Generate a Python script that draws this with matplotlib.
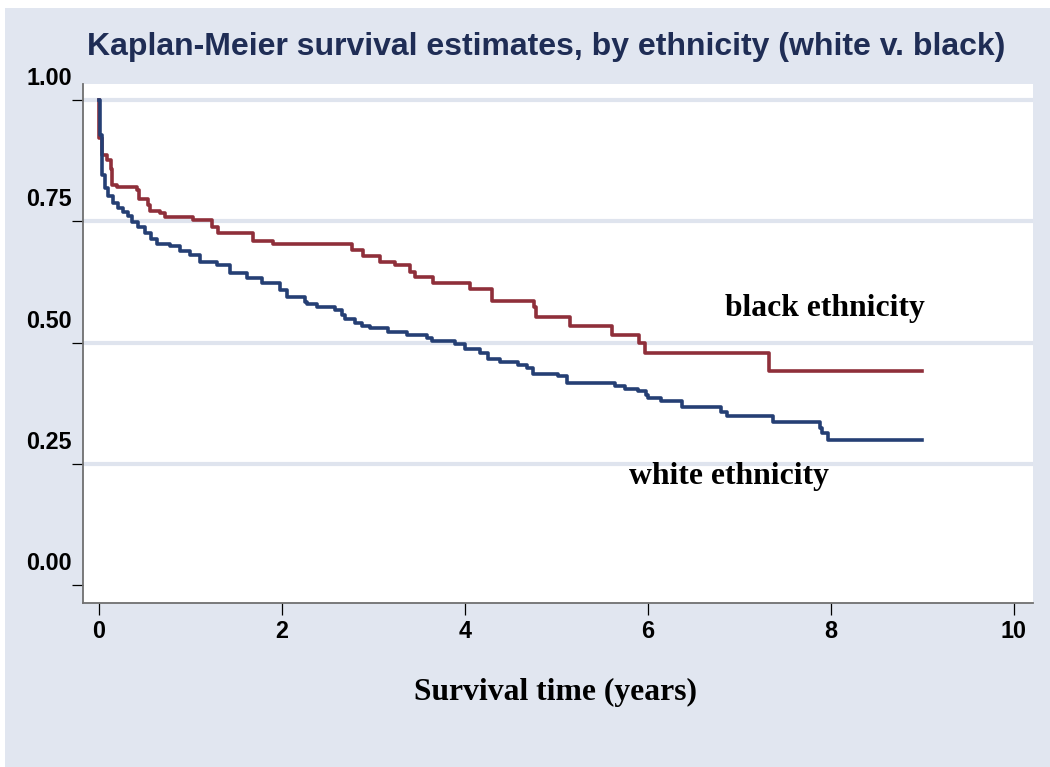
import matplotlib
matplotlib.use("Agg")
import matplotlib.pyplot as plt
import matplotlib.transforms as mtransforms
from matplotlib.patches import Rectangle

# ---------------- data ----------------
black_time = [0.0, 0.007, 0.04, 0.087, 0.13, 0.142, 0.20, 0.415, 0.44, 0.54, 0.56, 0.67, 0.725,
              1.034, 1.235, 1.307, 1.69, 1.908, 2.765, 2.892, 3.074, 3.238, 3.402, 3.457,
              3.657, 4.058, 4.295, 4.757, 4.776, 5.151, 5.607, 5.908, 5.97, 7.329, 9.0]
black_surv = [1.0, 0.922, 0.887, 0.876, 0.858, 0.825, 0.82, 0.814, 0.795, 0.783, 0.772, 0.766, 0.759,
              0.753, 0.739, 0.726, 0.71, 0.703, 0.691, 0.679, 0.665, 0.66, 0.646, 0.636,
              0.623, 0.61, 0.586, 0.574, 0.553, 0.534, 0.515, 0.498, 0.479, 0.442, 0.442]

white_time = [0.0, 0.01, 0.031, 0.069, 0.105, 0.16, 0.211, 0.269, 0.32, 0.361, 0.433, 0.506, 0.572,
              0.634, 0.779, 0.889, 0.998, 1.107, 1.29, 1.435, 1.617, 1.781, 1.981, 2.055,
              2.255, 2.28, 2.383, 2.583, 2.656, 2.692, 2.801, 2.874, 2.965, 3.165, 3.373,
              3.585, 3.639, 3.894, 4.003, 4.167, 4.258, 4.386, 4.586, 4.678, 4.75, 5.023,
              5.115, 5.643, 5.752, 5.897, 5.982, 6.007, 6.142, 6.372, 6.801, 6.863, 7.366,
              7.877, 7.902, 7.968, 9.0]
white_surv = [1.0, 0.928, 0.845, 0.818, 0.802, 0.787, 0.778, 0.77, 0.76, 0.749, 0.739, 0.725, 0.714,
              0.704, 0.698, 0.689, 0.68, 0.667, 0.66, 0.643, 0.634, 0.622, 0.608, 0.594,
              0.584, 0.579, 0.574, 0.566, 0.557, 0.548, 0.541, 0.534, 0.529, 0.522, 0.516,
              0.509, 0.504, 0.497, 0.486, 0.479, 0.467, 0.46, 0.454, 0.447, 0.435, 0.43,
              0.417, 0.41, 0.404, 0.399, 0.392, 0.385, 0.379, 0.368, 0.357, 0.348, 0.337,
              0.323, 0.313, 0.299, 0.299]

x_ticks = [0, 2, 4, 6, 8, 10]
x_ticklabels = ["0", "2", "4", "6", "8", "10"]
y_ticks = [0.0, 0.25, 0.5, 0.75, 1.0]
y_ticklabels = ["0.00", "0.25", "0.50", "0.75", "1.00"]
grid_levels = [0.25, 0.5, 0.75, 1.0]

title = "Kaplan-Meier survival estimates, by ethnicity (white v. black)"
x_label = "Survival time (years)"
label_black = "black ethnicity"
label_white = "white ethnicity"

# ---------------- style ----------------
BG = "#E1E6F0"
GRID = "#DFE4EE"
RED = "#8F2F3A"
BLUE = "#253F74"
TITLE_C = "#1F2D55"

fig = plt.figure(figsize=(10.5, 7.67), dpi=100)
fig.patch.set_facecolor(BG)
# thin white border at top and left as in the reference
fig.patches.append(Rectangle((0, 1 - 8 / 767), 1, 8 / 767, transform=fig.transFigure,
                             facecolor="white", edgecolor="none", zorder=0))
fig.patches.append(Rectangle((0, 0), 5 / 1050, 1, transform=fig.transFigure,
                             facecolor="white", edgecolor="none", zorder=0))

ax = fig.add_axes([83 / 1050, 1 - 603 / 767, (1033 - 83) / 1050, (603 - 84) / 767])
ax.set_facecolor("white")
ax.set_xlim(-0.172, 10.21)
ax.set_ylim(-0.0371, 1.033)

for g in grid_levels:
    ax.axhline(g, color=GRID, lw=3.0, zorder=1)

ax.step(black_time, black_surv, where="post", color=RED, lw=2.6, zorder=3)
ax.step(white_time, white_surv, where="post", color=BLUE, lw=2.6, zorder=3)

for s in ["top", "right"]:
    ax.spines[s].set_visible(False)
for s in ["left", "bottom"]:
    ax.spines[s].set_color("#707070")
    ax.spines[s].set_linewidth(1.3)

ax.set_xticks(x_ticks)
ax.set_xticklabels(x_ticklabels, fontfamily="Liberation Sans", fontweight="bold", fontsize=16.8)
ax.tick_params(axis="x", direction="out", length=8.5, width=0.9, color="black", pad=3.5)

ax.set_yticks(y_ticks)
ax.set_yticklabels([])
ax.tick_params(axis="y", direction="out", length=8, width=0.9, color="black")

# y tick labels sit above their ticks in the reference
off = mtransforms.ScaledTranslation(-11 / 100, 15 / 100, fig.dpi_scale_trans)
ytr = ax.get_yaxis_transform() + off
for v, lab in zip(y_ticks, y_ticklabels):
    ax.text(0, v, lab, transform=ytr, ha="right", va="baseline",
            fontfamily="Liberation Sans", fontweight="bold", fontsize=16.8, clip_on=False)

ax.text(7.94, 0.571, label_black, ha="center", va="center", fontfamily="Liberation Serif",
        fontweight="bold", fontsize=22.8)
ax.text(6.89, 0.223, label_white, ha="center", va="center", fontfamily="Liberation Serif",
        fontweight="bold", fontsize=22.8)

fig.text(546 / 1050, 1 - 47 / 767, title, ha="center", va="center", color=TITLE_C,
         fontfamily="Liberation Sans", fontweight="bold", fontsize=23)
fig.text(555 / 1050, 1 - 692 / 767, x_label, ha="center", va="center",
         fontfamily="Liberation Serif", fontweight="bold", fontsize=22.8)

fig.savefig("out.png", dpi=100, facecolor=fig.get_facecolor())
